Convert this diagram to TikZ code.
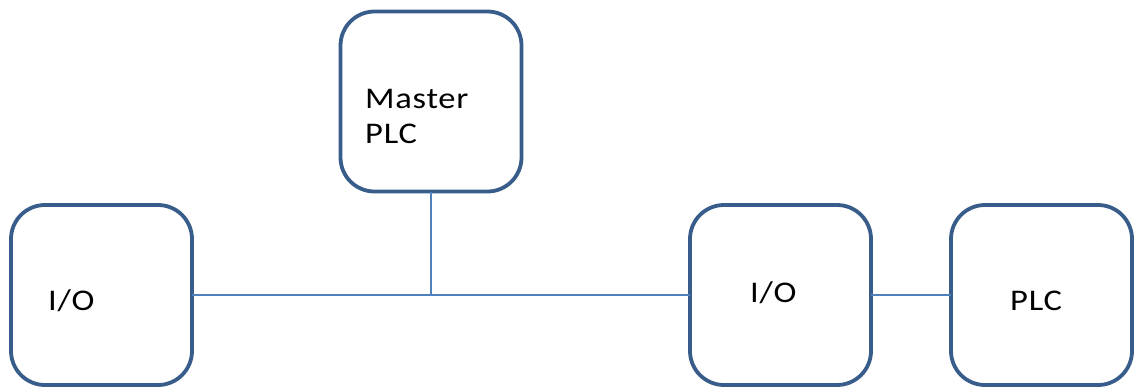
\documentclass[tikz,border=0pt]{standalone}
\usepackage{fontspec}
\setmainfont{Carlito}[FakeStretch=1.15,LetterSpace=2.5]
\begin{document}
\begin{tikzpicture}[x=1pt,y=-1pt,
  box/.style={draw=boxblue,line width=3.8pt,rounded corners=34pt,minimum width=181pt,minimum height=180pt,inner sep=0pt,outer sep=0pt},
  lbl/.style={font=\fontsize{30}{35}\selectfont,text=black,inner sep=0pt,anchor=base west,align=left},
  link/.style={draw=linkblue,line width=1.2pt}]
\definecolor{boxblue}{RGB}{56,93,138}
\definecolor{linkblue}{RGB}{79,129,189}
\useasboundingbox (0,0) rectangle (1135,389);
\node[box] (master) at (431,101.5) {};
\node[box] (left) at (101.5,295) {};
\node[box] (mid) at (780.5,295) {};
\node[box] (plc) at (1041.5,295) {};
\node[lbl] (tmaster) at (365,143) {Master\\PLC};
\node[lbl] (tleft) at (48,310) {I/O};
\node[lbl] (tmid) at (750,302) {I/O};
\node[lbl] (tplc) at (1010,310) {PLC};
\coordinate (j) at (master.south |- left.east);
\draw[link] (master.south) -- (j);
\draw[link] (left.east) -- (mid.west);
\draw[link] (mid.east) -- (plc.west);
\end{tikzpicture}
\end{document}
